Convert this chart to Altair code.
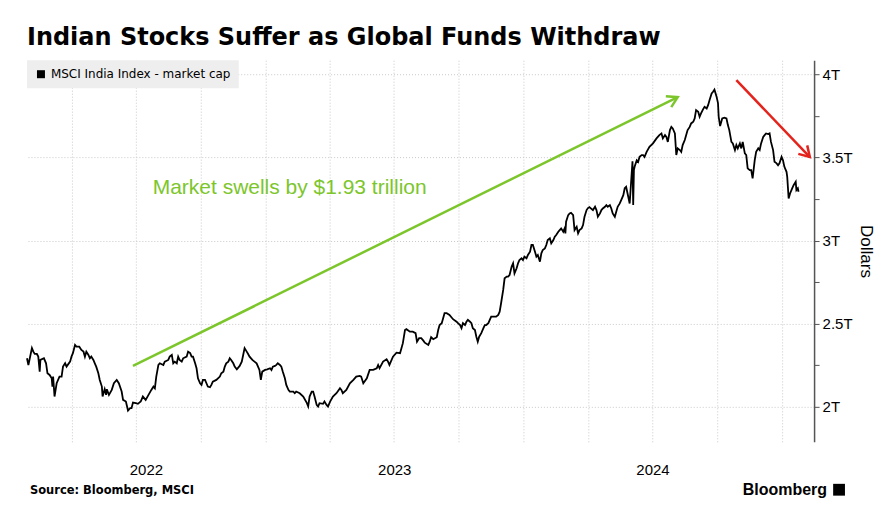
import math
import altair as alt
import pandas as pd

TITLE = "Indian Stocks Suffer as Global Funds Withdraw"
SERIES = "MSCI India Index - market cap"
SOURCE = "Source: Bloomberg, MSCI"
BRAND = "Bloomberg"
NOTE = "Market swells by $1.93 trillion"
Y_TITLE = "Dollars"

# MSCI India Index market cap, trillions of dollars
cap_2022 = [
    ("2022-01-28", 2.292), ("2022-01-30", 2.252), ("2022-02-04", 2.353), ("2022-02-06", 2.332),
    ("2022-02-08", 2.318), ("2022-02-11", 2.318), ("2022-02-13", 2.302), ("2022-02-15", 2.212),
    ("2022-02-16", 2.282), ("2022-02-21", 2.292), ("2022-02-24", 2.262), ("2022-02-26", 2.202),
    ("2022-03-01", 2.192), ("2022-03-04", 2.172), ("2022-03-05", 2.122), ("2022-03-06", 2.182),
    ("2022-03-08", 2.062), ("2022-03-11", 2.142), ("2022-03-15", 2.182), ("2022-03-18", 2.182),
    ("2022-03-20", 2.242), ("2022-03-23", 2.262), ("2022-03-25", 2.242), ("2022-03-30", 2.272),
    ("2022-04-01", 2.302), ("2022-04-03", 2.323), ("2022-04-06", 2.372), ("2022-04-08", 2.362),
    ("2022-04-12", 2.362), ("2022-04-15", 2.342), ("2022-04-18", 2.332), ("2022-04-20", 2.302),
    ("2022-04-22", 2.332), ("2022-04-25", 2.312), ("2022-04-27", 2.292), ("2022-04-29", 2.302),
    ("2022-05-02", 2.282), ("2022-05-04", 2.262), ("2022-05-06", 2.242), ("2022-05-09", 2.202),
    ("2022-05-11", 2.162), ("2022-05-14", 2.122), ("2022-05-15", 2.062), ("2022-05-17", 2.092),
    ("2022-05-18", 2.106), ("2022-05-20", 2.072), ("2022-05-21", 2.106), ("2022-05-24", 2.072),
    ("2022-05-28", 2.102), ("2022-05-31", 2.142), ("2022-06-04", 2.162), ("2022-06-07", 2.142),
    ("2022-06-11", 2.092), ("2022-06-13", 2.042), ("2022-06-17", 2.032), ("2022-06-20", 1.978),
    ("2022-06-23", 1.992), ("2022-06-25", 1.992), ("2022-06-27", 2.026), ("2022-07-01", 2.022),
    ("2022-07-04", 2.018), ("2022-07-08", 2.032), ("2022-07-11", 2.062), ("2022-07-15", 2.042),
    ("2022-07-19", 2.072), ("2022-07-23", 2.102), ("2022-07-26", 2.122), ("2022-07-28", 2.112),
    ("2022-07-30", 2.182), ("2022-08-02", 2.252), ("2022-08-04", 2.262), ("2022-08-09", 2.252),
    ("2022-08-11", 2.272), ("2022-08-16", 2.282), ("2022-08-18", 2.302), ("2022-08-21", 2.312),
    ("2022-08-23", 2.262), ("2022-08-25", 2.272), ("2022-08-28", 2.262), ("2022-08-30", 2.302),
    ("2022-09-01", 2.282), ("2022-09-04", 2.272), ("2022-09-06", 2.292), ("2022-09-11", 2.302),
    ("2022-09-13", 2.332), ("2022-09-16", 2.323), ("2022-09-18", 2.302), ("2022-09-20", 2.302),
    ("2022-09-23", 2.262), ("2022-09-25", 2.232), ("2022-09-27", 2.172), ("2022-09-30", 2.142),
    ("2022-10-02", 2.132), ("2022-10-04", 2.162), ("2022-10-07", 2.162), ("2022-10-09", 2.142),
    ("2022-10-11", 2.122), ("2022-10-14", 2.118), ("2022-10-16", 2.132), ("2022-10-18", 2.152),
    ("2022-10-23", 2.162), ("2022-10-28", 2.182), ("2022-10-30", 2.202), ("2022-11-02", 2.212),
    ("2022-11-04", 2.242), ("2022-11-06", 2.262), ("2022-11-09", 2.272), ("2022-11-11", 2.292),
    ("2022-11-13", 2.282), ("2022-11-16", 2.262), ("2022-11-18", 2.242), ("2022-11-21", 2.226),
    ("2022-11-25", 2.246), ("2022-11-28", 2.272), ("2022-11-30", 2.312), ("2022-12-02", 2.353),
    ("2022-12-05", 2.332), ("2022-12-07", 2.318), ("2022-12-09", 2.302), ("2022-12-13", 2.282),
    ("2022-12-16", 2.272), ("2022-12-19", 2.262), ("2022-12-21", 2.242), ("2022-12-23", 2.222),
    ("2022-12-25", 2.162), ("2022-12-27", 2.212), ("2022-12-31", 2.222),
]

cap_2023 = [
    ("2023-01-03", 2.226), ("2023-01-07", 2.232), ("2023-01-09", 2.222), ("2023-01-11", 2.242),
    ("2023-01-14", 2.246), ("2023-01-16", 2.252), ("2023-01-18", 2.262), ("2023-01-21", 2.252),
    ("2023-01-23", 2.242), ("2023-01-25", 2.212), ("2023-01-28", 2.172), ("2023-01-30", 2.132),
    ("2023-02-02", 2.102), ("2023-02-04", 2.092), ("2023-02-09", 2.092), ("2023-02-11", 2.082),
    ("2023-02-13", 2.092), ("2023-02-18", 2.082), ("2023-02-23", 2.062), ("2023-02-28", 2.024),
    ("2023-03-02", 2.003), ("2023-03-04", 2.062), ("2023-03-07", 2.092), ("2023-03-09", 2.092),
    ("2023-03-11", 2.062), ("2023-03-14", 2.012), ("2023-03-16", 2.002), ("2023-03-18", 2.022),
    ("2023-03-23", 2.018), ("2023-03-25", 2.032), ("2023-03-28", 2.012), ("2023-03-30", 2.002),
    ("2023-04-02", 2.032), ("2023-04-06", 2.062), ("2023-04-11", 2.082), ("2023-04-16", 2.112),
    ("2023-04-18", 2.102), ("2023-04-20", 2.082), ("2023-04-25", 2.102), ("2023-04-30", 2.142),
    ("2023-05-05", 2.162), ("2023-05-09", 2.182), ("2023-05-14", 2.186), ("2023-05-16", 2.182),
    ("2023-05-19", 2.142), ("2023-05-24", 2.172), ("2023-05-28", 2.222), ("2023-06-02", 2.222),
    ("2023-06-07", 2.232), ("2023-06-09", 2.252), ("2023-06-11", 2.232), ("2023-06-16", 2.272),
    ("2023-06-21", 2.286), ("2023-06-23", 2.272), ("2023-06-25", 2.252), ("2023-06-30", 2.302),
    ("2023-07-05", 2.326), ("2023-07-10", 2.323), ("2023-07-12", 2.353), ("2023-07-14", 2.383),
    ("2023-07-17", 2.462), ("2023-07-19", 2.467), ("2023-07-24", 2.452), ("2023-07-28", 2.452),
    ("2023-08-01", 2.443), ("2023-08-03", 2.392), ("2023-08-06", 2.413), ("2023-08-09", 2.413),
    ("2023-08-12", 2.398), ("2023-08-14", 2.386), ("2023-08-19", 2.372), ("2023-08-21", 2.392),
    ("2023-08-23", 2.419), ("2023-08-26", 2.407), ("2023-08-31", 2.419), ("2023-09-02", 2.462),
    ("2023-09-04", 2.492), ("2023-09-07", 2.503), ("2023-09-09", 2.533), ("2023-09-11", 2.563),
    ("2023-09-14", 2.563), ("2023-09-18", 2.553), ("2023-09-23", 2.527), ("2023-09-28", 2.512),
    ("2023-09-30", 2.503), ("2023-10-03", 2.492), ("2023-10-05", 2.473), ("2023-10-07", 2.503),
    ("2023-10-10", 2.492), ("2023-10-12", 2.512), ("2023-10-14", 2.523), ("2023-10-17", 2.512),
    ("2023-10-19", 2.503), ("2023-10-21", 2.473), ("2023-10-24", 2.462), ("2023-10-26", 2.422),
    ("2023-10-28", 2.392), ("2023-10-30", 2.422), ("2023-11-02", 2.443), ("2023-11-05", 2.473),
    ("2023-11-07", 2.492), ("2023-11-09", 2.492), ("2023-11-12", 2.503), ("2023-11-14", 2.523),
    ("2023-11-16", 2.542), ("2023-11-19", 2.542), ("2023-11-23", 2.542), ("2023-11-26", 2.553),
    ("2023-11-28", 2.572), ("2023-11-30", 2.623), ("2023-12-03", 2.703), ("2023-12-05", 2.773),
    ("2023-12-08", 2.783), ("2023-12-10", 2.783), ("2023-12-12", 2.793), ("2023-12-15", 2.843),
    ("2023-12-17", 2.863), ("2023-12-19", 2.803), ("2023-12-22", 2.833), ("2023-12-24", 2.863),
    ("2023-12-26", 2.883), ("2023-12-29", 2.893), ("2023-12-31", 2.883),
]

cap_2024 = [
    ("2024-01-02", 2.903), ("2024-01-05", 2.893), ("2024-01-07", 2.913), ("2024-01-10", 2.933),
    ("2024-01-12", 2.973), ("2024-01-14", 2.973), ("2024-01-17", 2.933), ("2024-01-19", 2.903),
    ("2024-01-21", 2.913), ("2024-01-24", 2.873), ("2024-01-26", 2.923), ("2024-01-28", 2.943),
    ("2024-01-31", 2.953), ("2024-02-02", 2.973), ("2024-02-04", 3.003), ("2024-02-07", 3.013),
    ("2024-02-09", 2.983), ("2024-02-12", 3.003), ("2024-02-14", 3.023), ("2024-02-16", 3.033),
    ("2024-02-19", 3.053), ("2024-02-21", 3.063), ("2024-02-23", 3.073), ("2024-02-26", 3.053),
    ("2024-02-28", 3.073), ("2024-02-29", 3.043), ("2024-03-01", 3.113), ("2024-03-04", 3.153),
    ("2024-03-06", 3.163), ("2024-03-08", 3.167), ("2024-03-11", 3.153), ("2024-03-13", 3.063),
    ("2024-03-16", 3.083), ("2024-03-18", 3.043), ("2024-03-20", 3.063), ("2024-03-23", 3.073),
    ("2024-03-25", 3.093), ("2024-03-27", 3.141), ("2024-03-30", 3.183), ("2024-04-01", 3.195),
    ("2024-04-03", 3.201), ("2024-04-08", 3.183), ("2024-04-11", 3.203), ("2024-04-13", 3.183),
    ("2024-04-15", 3.143), ("2024-04-18", 3.163), ("2024-04-20", 3.183), ("2024-04-22", 3.193),
    ("2024-04-25", 3.203), ("2024-04-27", 3.213), ("2024-04-29", 3.203), ("2024-05-02", 3.213),
    ("2024-05-04", 3.193), ("2024-05-06", 3.163), ("2024-05-09", 3.143), ("2024-05-11", 3.173),
    ("2024-05-13", 3.203), ("2024-05-16", 3.223), ("2024-05-18", 3.243), ("2024-05-21", 3.273),
    ("2024-05-23", 3.314), ("2024-05-25", 3.323), ("2024-05-28", 3.263), ("2024-05-30", 3.223),
    ("2024-06-03", 3.477), ("2024-06-04", 3.213), ("2024-06-05", 3.423), ("2024-06-06", 3.443),
    ("2024-06-09", 3.483), ("2024-06-11", 3.473), ("2024-06-13", 3.503), ("2024-06-16", 3.514),
    ("2024-06-18", 3.514), ("2024-06-20", 3.503), ("2024-06-23", 3.533), ("2024-06-27", 3.563),
    ("2024-07-02", 3.584), ("2024-07-07", 3.614), ("2024-07-11", 3.634), ("2024-07-14", 3.644),
    ("2024-07-16", 3.614), ("2024-07-19", 3.634), ("2024-07-21", 3.623), ("2024-07-23", 3.593),
    ("2024-07-26", 3.664), ("2024-07-28", 3.683), ("2024-07-30", 3.674), ("2024-08-02", 3.644),
    ("2024-08-04", 3.514), ("2024-08-06", 3.554), ("2024-08-09", 3.544), ("2024-08-11", 3.533),
    ("2024-08-13", 3.574), ("2024-08-16", 3.604), ("2024-08-18", 3.634), ("2024-08-20", 3.664),
    ("2024-08-23", 3.683), ("2024-08-25", 3.704), ("2024-08-28", 3.714), ("2024-08-30", 3.734),
    ("2024-09-01", 3.784), ("2024-09-04", 3.774), ("2024-09-06", 3.744), ("2024-09-08", 3.764),
    ("2024-09-11", 3.790), ("2024-09-13", 3.804), ("2024-09-16", 3.794), ("2024-09-18", 3.814),
    ("2024-09-20", 3.844), ("2024-09-23", 3.884), ("2024-09-25", 3.894), ("2024-09-27", 3.907),
    ("2024-09-30", 3.865), ("2024-10-02", 3.826), ("2024-10-03", 3.744), ("2024-10-05", 3.688),
    ("2024-10-08", 3.734), ("2024-10-11", 3.739), ("2024-10-14", 3.734), ("2024-10-16", 3.694),
    ("2024-10-18", 3.664), ("2024-10-21", 3.593), ("2024-10-23", 3.584), ("2024-10-26", 3.544),
    ("2024-10-28", 3.574), ("2024-10-30", 3.554), ("2024-11-02", 3.584), ("2024-11-04", 3.554),
    ("2024-11-06", 3.593), ("2024-11-09", 3.524), ("2024-11-11", 3.514), ("2024-11-13", 3.434),
    ("2024-11-16", 3.423), ("2024-11-18", 3.423), ("2024-11-20", 3.374), ("2024-11-23", 3.483),
    ("2024-11-25", 3.533), ("2024-11-28", 3.554), ("2024-11-30", 3.544), ("2024-12-02", 3.584),
    ("2024-12-05", 3.623), ("2024-12-07", 3.634), ("2024-12-09", 3.644), ("2024-12-12", 3.640),
    ("2024-12-14", 3.644), ("2024-12-16", 3.593), ("2024-12-19", 3.544), ("2024-12-21", 3.473),
    ("2024-12-24", 3.464), ("2024-12-26", 3.453), ("2024-12-28", 3.464), ("2024-12-31", 3.503),
]

cap_2025 = [
    ("2025-01-02", 3.483), ("2025-01-04", 3.443), ("2025-01-07", 3.413), ("2025-01-08", 3.383),
    ("2025-01-10", 3.253), ("2025-01-12", 3.283), ("2025-01-15", 3.314), ("2025-01-17", 3.333),
    ("2025-01-20", 3.353), ("2025-01-21", 3.303), ("2025-01-23", 3.314), ("2025-01-24", 3.293),
]

# axes
x_start, x_end = "2022-01-28", "2025-02-15"
y_min, y_max = 1.79, 4.084
y_ticks = [2.0, 2.25, 2.5, 2.75, 3.0, 3.25, 3.5, 3.75, 4.0]
quarter_starts = [
    "2022-04-01", "2022-07-01", "2022-10-01", "2023-01-01", "2023-04-01", "2023-07-01",
    "2023-10-01", "2024-01-01", "2024-04-01", "2024-07-01", "2024-10-01", "2025-01-01",
]
year_labels = ["2022", "2023", "2024"]

# annotations (data coordinates)
green_arrow = [("2022-06-27", 2.246), ("2024-08-06", 3.862)]
red_arrow = [("2024-10-28", 3.964), ("2025-02-09", 3.502)]
note_pos = ("2022-07-25", 3.315)

GREEN = "#7cc62c"
RED = "#e3231c"
GRID = "#c9c9c9"
W, H = 788, 382


def ms(s):
    return int(pd.Timestamp(s).value // 10**6)


df = pd.DataFrame(cap_2022 + cap_2023 + cap_2024 + cap_2025, columns=["date", "value"])
df["series"] = SERIES

x_dom = [ms(x_start), ms(x_end)]
x_scale = alt.Scale(type="utc", domain=x_dom)
y_scale = alt.Scale(domain=[y_min, y_max], nice=False, zero=False)

x_axis = alt.Axis(values=[ms(q) for q in quarter_starts], grid=True, gridDash=[1, 2],
                  gridColor=GRID, gridWidth=1, labels=False, ticks=False, domain=False, title=None)
y_axis = alt.Axis(orient="right", values=y_ticks,
                  labelExpr="datum.value % 0.5 == 0 ? datum.value + 'T' : ''",
                  grid=True, gridDash=[1, 2], gridColor=GRID, gridWidth=1,
                  gridOpacity={"condition": {"test": "datum.value % 0.5 == 0", "value": 1}, "value": 0},
                  tickSize=5, tickColor="#555555", tickWidth=1,
                  domainColor="#555555", domainWidth=1.5,
                  labelFont="Liberation Sans", labelFontSize=15, labelColor="#000000", labelPadding=3,
                  title=Y_TITLE, titleAngle=90, titleFont="Liberation Sans", titleFontSize=17,
                  titleFontWeight="normal", titleColor="#000000", titlePadding=4)

X = alt.X("date:T", scale=x_scale, axis=x_axis)
Y = alt.Y("value:Q", scale=y_scale, axis=y_axis)

line = alt.Chart(df).mark_line(strokeWidth=1.8, interpolate="linear").encode(
    x=X, y=Y,
    color=alt.Color("series:N", scale=alt.Scale(range=["#000000"]),
                    legend=alt.Legend(title=None, orient="top-left", offset=0, padding=8,
                                      fillColor="#eeeeee", symbolType="square", symbolSize=64,
                                      symbolFillColor="#000000", symbolStrokeColor="#000000",
                                      symbolStrokeWidth=0, labelFont="DejaVu Sans", labelFontSize=12,
                                      labelColor="#000000", labelLimit=400, labelOffset=4)),
)


def arrow_layers(pts, color):
    a = pd.DataFrame(pts, columns=["date", "value"])
    (d0, v0), (d1, v1) = pts
    dx = (ms(d1) - ms(d0)) / (x_dom[1] - x_dom[0]) * W
    dy = -(v1 - v0) / (y_max - y_min) * H
    ang = math.degrees(math.atan2(dy, dx)) % 360
    shaft = alt.Chart(a).mark_line(color=color, strokeWidth=2.5).encode(x=X, y=Y)
    head = alt.Chart(a.iloc[[1]]).mark_point(
        shape="M -1 -0.6 L 0 0 L -1 0.6", filled=False, size=420, strokeWidth=2.5,
        color=color, opacity=1
    ).encode(x=X, y=Y, angle=alt.value(ang))
    return shaft, head


g_shaft, g_head = arrow_layers(green_arrow, GREEN)
r_shaft, r_head = arrow_layers(red_arrow, RED)

note = alt.Chart(pd.DataFrame({"date": [note_pos[0]], "value": [note_pos[1]], "t": [NOTE]})).mark_text(
    align="left", baseline="middle", font="Liberation Sans", fontSize=21, color=GREEN
).encode(x=X, y=Y, text="t:N")

# year labels centred on the visible part of each year
yl = []
for y in year_labels:
    a = max(ms(f"{y}-01-01"), x_dom[0])
    b = min(ms(f"{int(y) + 1}-01-01"), x_dom[1])
    yl.append({"date": (a + b) // 2, "label": y})
years = alt.Chart(pd.DataFrame(yl)).mark_text(
    font="Liberation Sans", fontSize=15, color="#000000", baseline="middle"
).encode(x=X, y=alt.value(H + 28), text="label:N")

source = alt.Chart(pd.DataFrame({"t": [SOURCE]})).mark_text(
    align="left", baseline="middle", font="DejaVu Sans", fontWeight="bold", fontSize=11.5, color="#000000"
).encode(x=alt.value(3), y=alt.value(H + 49), text="t:N")

brand = alt.Chart(pd.DataFrame({"t": [BRAND]})).mark_text(
    align="right", baseline="middle", font="Liberation Sans", fontWeight="bold", fontSize=16, color="#000000"
).encode(x=alt.value(W + 13), y=alt.value(H + 48), text="t:N")

logo = alt.Chart(pd.DataFrame({"t": [BRAND]})).mark_square(
    size=140, color="#000000", opacity=1
).encode(x=alt.value(W + 25), y=alt.value(H + 48))

chart = alt.layer(line, g_shaft, g_head, r_shaft, r_head, note, years, source, brand, logo).properties(
    width=W, height=H,
    title=alt.TitleParams(TITLE, anchor="start", frame="group", font="DejaVu Sans", fontSize=24,
                          fontWeight="bold", color="#000000", offset=10),
    padding={"left": 19, "top": 52, "right": 70, "bottom": 70},
    autosize=alt.AutoSizeParams(type="none"),
    background="#ffffff",
).configure_view(strokeWidth=0, stroke="transparent")

chart.save("out.html", embed_options={"renderer": "svg", "actions": False})
